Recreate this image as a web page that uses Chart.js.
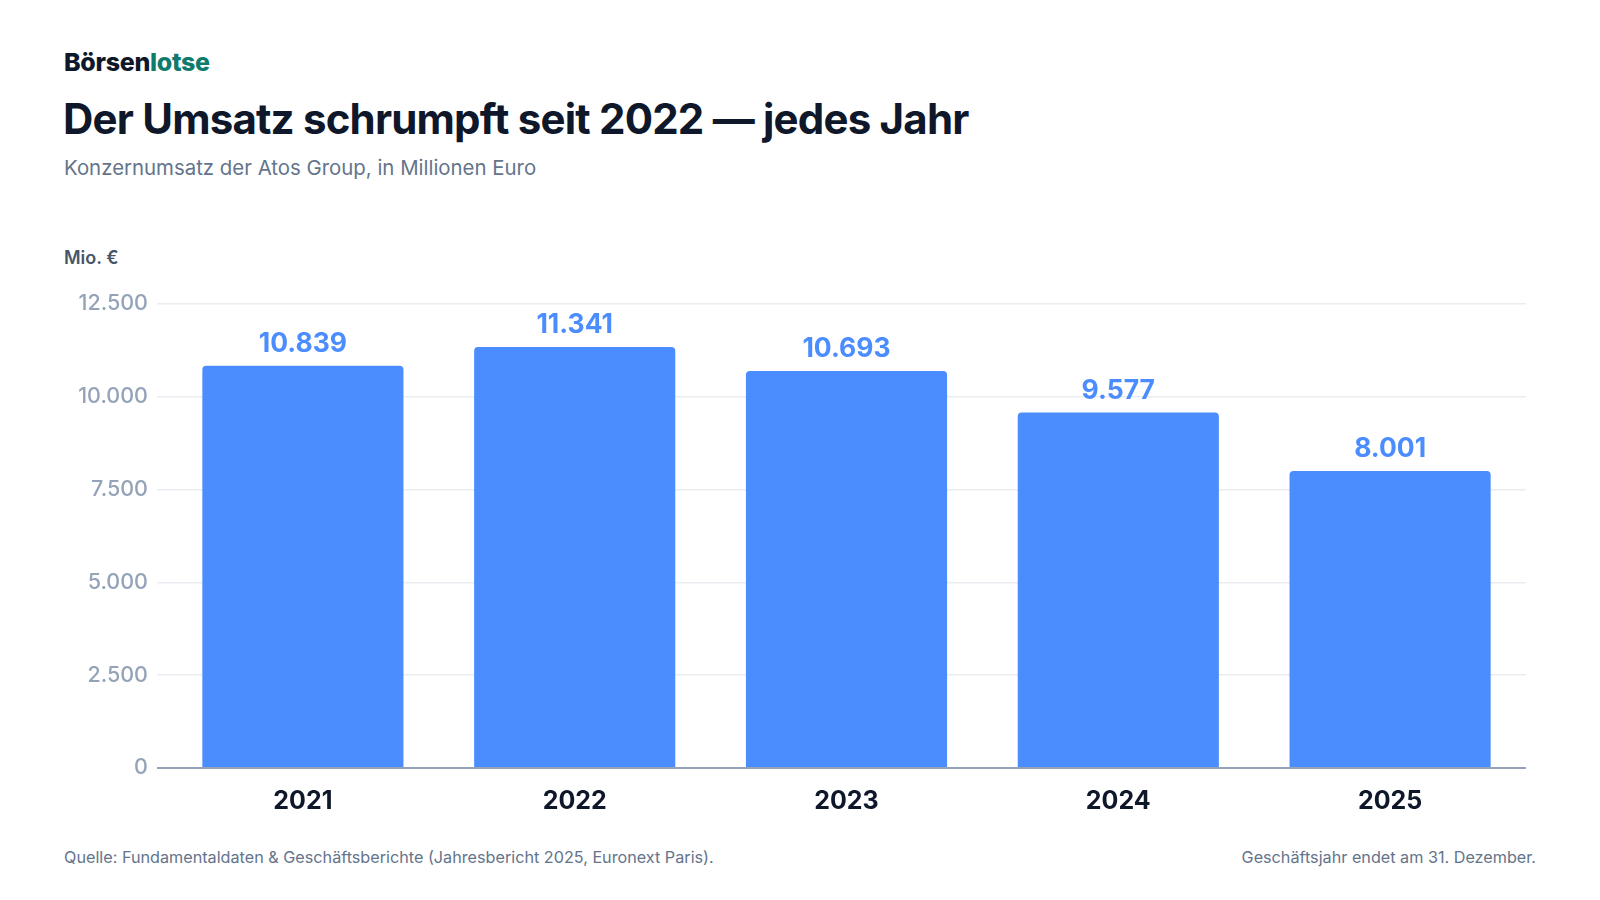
<!DOCTYPE html>
<html lang="de">
<head>
<meta charset="utf-8">
<title>Atos Umsatz</title>
<script src="https://cdn.jsdelivr.net/npm/chart.js@4/dist/chart.umd.min.js"></script>
<style>
    html, body { margin: 0; padding: 0; background: #fff; }
    body { font-family: Inter, "Noto Sans", sans-serif; }
    .page { position: relative; width: 1600px; height: 900px; overflow: hidden; }
    .txt { position: absolute; line-height: 1; white-space: nowrap; }
    .logo { left: 64px; top: 50px; font-size: 25px; font-weight: 800; color: #0f172a; letter-spacing: -0.3px; }
    .logo span { color: #0f7b6c; }
    .title { left: 63px; top: 98px; font-size: 42px; font-weight: 700; color: #0f172a; letter-spacing: -0.8px; }
    .subtitle { left: 64px; top: 158px; font-size: 20.4px; color: #64748b; }
    .unit { left: 64px; top: 249px; font-size: 18px; font-weight: 600; color: #475569; }
    .source { left: 64px; top: 849px; font-size: 16.2px; color: #64748b; }
    .note { right: 64px; top: 849px; font-size: 16.2px; color: #64748b; }
    .chart-wrap { position: absolute; left: 0; top: 280px; width: 1600px; height: 548px; }
</style>
</head>
<body>
<div class="page">
    <div class="txt logo">Börsen<span>lotse</span></div>
    <div class="txt title">Der Umsatz schrumpft seit 2022 — jedes Jahr</div>
    <div class="txt subtitle">Konzernumsatz der Atos Group, in Millionen Euro</div>
    <div class="txt unit">Mio. €</div>
    <div class="chart-wrap"><canvas id="umsatzChart"></canvas></div>
    <div class="txt source">Quelle: Fundamentaldaten &amp; Geschäftsberichte (Jahresbericht 2025, Euronext Paris).</div>
    <div class="txt note">Geschäftsjahr endet am 31. Dezember.</div>
</div>

<script>
    // Data
    const years = ['2021', '2022', '2023', '2024', '2025'];
    const revenue = [10839, 11341, 10693, 9577, 8001];
    const yTicks = [0, 2500, 5000, 7500, 10000, 12500];

    const BAR_BLUE = '#4b8dff';

    // German thousands separator
    function fmt(v) {
        return String(v).replace(/\B(?=(\d{3})+(?!\d))/g, '.');
    }

    // Value labels above the bars
    const valueLabels = {
        id: 'valueLabels',
        afterDatasetsDraw(chart) {
            const ctx = chart.ctx;
            const meta = chart.getDatasetMeta(0);
            ctx.save();
            ctx.font = '700 26.5px Inter, "Noto Sans", sans-serif';
            ctx.fillStyle = BAR_BLUE;
            ctx.textAlign = 'center';
            ctx.textBaseline = 'alphabetic';
            meta.data.forEach((bar, i) => {
                ctx.fillText(fmt(revenue[i]), bar.x, bar.y - 14);
            });
            ctx.restore();
        }
    };

    new Chart(document.getElementById('umsatzChart'), {
        type: 'bar',
        data: {
            labels: years,
            datasets: [{
                data: revenue,
                backgroundColor: BAR_BLUE,
                borderRadius: { topLeft: 4, topRight: 4, bottomLeft: 0, bottomRight: 0 },
                borderSkipped: 'bottom',
                barPercentage: 0.74,
                categoryPercentage: 1
            }]
        },
        options: {
            responsive: true,
            maintainAspectRatio: false,
            animation: false,
            layout: { padding: { top: 24, right: 74, bottom: 0, left: 0 } },
            plugins: {
                legend: { display: false },
                tooltip: { enabled: false }
            },
            scales: {
                x: {
                    grid: { display: false },
                    border: { display: false },
                    ticks: {
                        color: '#0f172a',
                        padding: 10,
                        font: { family: 'Inter', size: 25, weight: '700' }
                    },
                    afterFit(scale) { scale.height = 60; }
                },
                y: {
                    min: 0,
                    max: 12500,
                    afterBuildTicks(scale) {
                        scale.ticks = yTicks.map(v => ({ value: v }));
                    },
                    grid: {
                        color: c => c.tick && c.tick.value === 0 ? '#94a3b8' : '#e9edf2',
                        lineWidth: c => c.tick && c.tick.value === 0 ? 2 : 1.5,
                        tickLength: 10
                    },
                    border: { display: false },
                    ticks: {
                        color: '#94a3b8',
                        padding: 9,
                        font: { family: 'Inter', size: 21.5, weight: '500' },
                        callback: v => fmt(v)
                    },
                    afterFit(scale) { scale.width = 167; }
                }
            }
        },
        plugins: [valueLabels]
    });
</script>
</body>
</html>
